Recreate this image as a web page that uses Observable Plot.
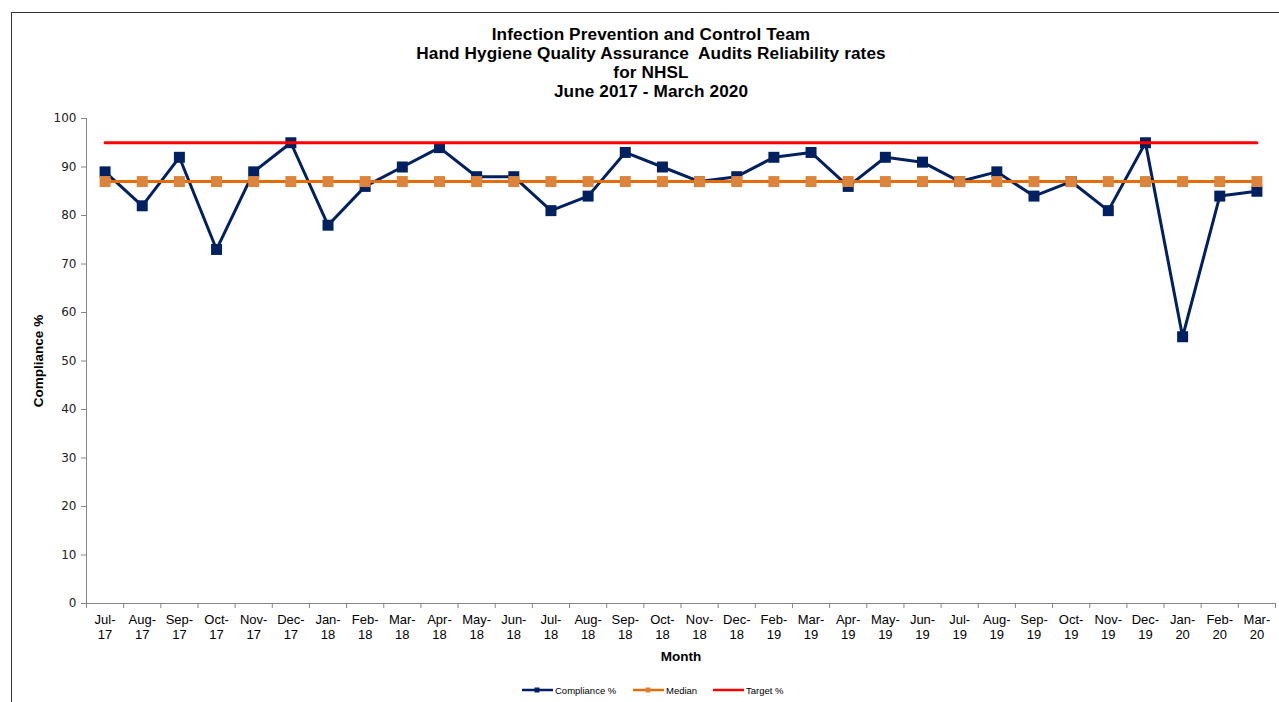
<!DOCTYPE html>
<html>
<head>
<meta charset="utf-8">
<script src="https://cdn.jsdelivr.net/npm/d3@7"></script>
<script src="https://cdn.jsdelivr.net/npm/@observablehq/plot@0.6"></script>
<style>
  body { margin:0; background:#fff; width:1279px; height:702px; overflow:hidden; position:relative; font-family:"Liberation Sans", Arial, sans-serif; }
  #frame { position:absolute; left:11px; top:12px; right:-2px; bottom:-2px; border-left:1px solid #333; border-top:1px solid #333; }
  #title { position:absolute; left:0; width:1302px; top:25px; text-align:center; font-weight:bold; font-size:17.2px; line-height:19px; letter-spacing:0.1px; white-space:pre; color:#000; }
  #chart { position:absolute; left:0; top:100px; }
  #legend { position:absolute; top:683px; left:0; width:1279px; font-size:9.5px; color:#000; }
  .item { position:absolute; display:flex; align-items:center; height:14px; }
  .item svg { margin-right:2px; }
</style>
</head>
<body>
<div id="frame"></div>
<div id="title"></div>
<div id="chart"></div>
<div id="legend"></div>
<script>
const titleLines = [
  "Infection Prevention and Control Team",
  "Hand Hygiene Quality Assurance  Audits Reliability rates",
  "for NHSL",
  "June 2017 - March 2020"
];
const months = ["Jul-17","Aug-17","Sep-17","Oct-17","Nov-17","Dec-17","Jan-18","Feb-18","Mar-18","Apr-18","May-18","Jun-18","Jul-18","Aug-18","Sep-18","Oct-18","Nov-18","Dec-18","Feb-19","Mar-19","Apr-19","May-19","Jun-19","Jul-19","Aug-19","Sep-19","Oct-19","Nov-19","Dec-19","Jan-20","Feb-20","Mar-20"];
const compliance = [89,82,92,73,89,95,78,86,90,94,88,88,81,84,93,90,87,88,92,93,86,92,91,87,89,84,87,81,95,55,84,85];
const median = [87,87,87,87,87,87,87,87,87,87,87,87,87,87,87,87,87,87,87,87,87,87,87,87,87,87,87,87,87,87,87,87];
const target = [95,95,95,95,95,95,95,95,95,95,95,95,95,95,95,95,95,95,95,95,95,95,95,95,95,95,95,95,95,95,95,95];
const yTicks = [0,10,20,30,40,50,60,70,80,90,100];
const seriesNames = ["Compliance %","Median","Target %"];
const colors = {compliance:"#002060", median:"#E46C0A", medianMarker:"#DC843C", target:"#FF0000"};

document.getElementById("title").textContent = titleLines.join("\n");

const idx = d3.range(months.length);
const boundaries = d3.range(-0.5, months.length, 1);

const chart = Plot.plot({
  width: 1279,
  height: 570,
  marginLeft: 86,
  marginRight: 4,
  marginTop: 18,
  marginBottom: 67,
  x: {type: "linear", domain: [-0.5, months.length - 0.5]},
  y: {domain: [0, 100]},
  style: {fontFamily: "'Liberation Sans', Arial, sans-serif", fontSize: "13px", color: "#000", background: "transparent"},
  marks: [
    Plot.ruleY([0], {stroke: "#868686"}),
    Plot.ruleX([-0.5], {stroke: "#868686"}),
    Plot.axisY({ticks: yTicks, tickSize: 5, tickPadding: 5, stroke: "#868686", fill: "#222", fontFamily: "'DejaVu Sans', Verdana, sans-serif", fontSize: 12, label: null}),
    Plot.axisX({ticks: boundaries, tickSize: 5, tickFormat: () => "", stroke: "#868686", label: null}),
    Plot.axisX({ticks: idx, tickSize: 0, tickPadding: 10, tickFormat: i => months[i].replace("-", "-\n"), lineHeight: 1.15, label: null}),
    Plot.text(["Compliance %"], {frameAnchor: "left", textAnchor: "middle", rotate: -90, dx: -48, fontWeight: "bold", fontSize: 13.5}),
    Plot.text(["Month"], {frameAnchor: "bottom", dy: 57, fontWeight: "bold", fontSize: 13.5}),
    Plot.line(idx, {x: i => i, y: i => compliance[i], stroke: colors.compliance, strokeWidth: 3}),
    Plot.dot(idx, {x: i => i, y: i => compliance[i], symbol: "square", r: 6.2, fill: colors.compliance}),
    Plot.line(idx, {x: i => i, y: i => median[i], stroke: colors.median, strokeWidth: 3}),
    Plot.dot(idx, {x: i => i, y: i => median[i], symbol: "square", r: 6.2, fill: colors.medianMarker}),
    Plot.line(idx, {x: i => i, y: i => target[i], stroke: colors.target, strokeWidth: 3})
  ]
});
document.getElementById("chart").appendChild(chart);

// legend
const legend = document.getElementById("legend");
const legendX = [522, 633, 713];
const legendSpec = [
  {color: colors.compliance, marker: colors.compliance},
  {color: colors.median, marker: colors.medianMarker},
  {color: colors.target, marker: null}
];
seriesNames.forEach((name, k) => {
  const item = document.createElement("div");
  item.className = "item";
  item.style.left = legendX[k] + "px";
  const s = legendSpec[k];
  item.innerHTML = `<svg width="31" height="8"><line x1="0" y1="4" x2="31" y2="4" stroke="${s.color}" stroke-width="2.5"/>${s.marker ? `<rect x="12.5" y="1.5" width="5" height="5" fill="${s.marker}"/>` : ""}</svg><span>${name}</span>`;
  legend.appendChild(item);
});
</script>
</body>
</html>
